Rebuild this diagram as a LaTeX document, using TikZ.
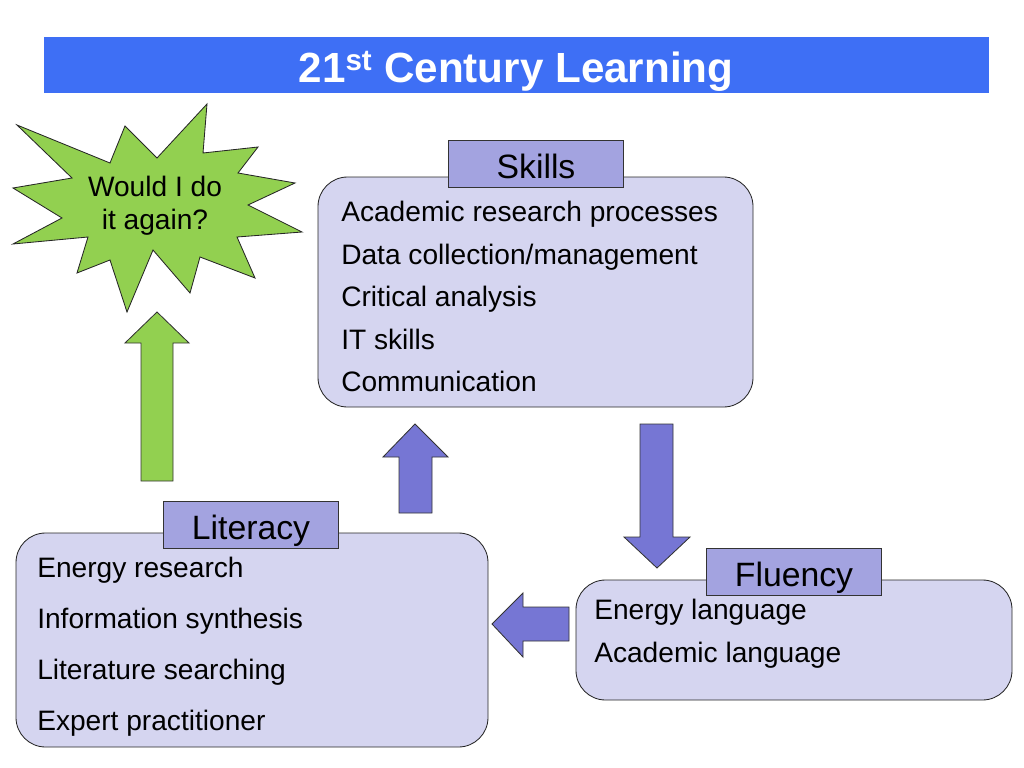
\documentclass[tikz,border=0pt]{standalone}
\usepackage{fontspec}
\setmainfont{Liberation Sans}
\definecolor{titleblue}{RGB}{62,111,245}
\definecolor{boxfill}{RGB}{213,213,240}
\definecolor{tagfill}{RGB}{163,163,224}
\definecolor{arrowfill}{RGB}{118,118,212}
\definecolor{stargreen}{RGB}{146,208,80}
\tikzset{
	box/.style={draw=black!85, line width=0.6pt, fill=boxfill, rounded corners=21pt},
	tag/.style={draw=black!80, line width=0.6pt, fill=tagfill, minimum width=124.7pt, minimum height=34pt, inner sep=0pt, text height=20pt, text depth=0pt, font=\fontsize{24}{28}\selectfont},
	item/.style={anchor=base west, inner sep=0pt, font=\fontsize{20}{24}\selectfont},
	blockarrow/.style={draw=black!80, line width=0.6pt}
}

\begin{document}
\begin{tikzpicture}[x=0.025cm, y=-0.025cm]
			%%%%% START %%%%%
			\useasboundingbox (0, 0) rectangle (1024, 768);
			
			\draw[fill=titleblue, draw=none] (44, 37) rectangle (989, 93);
			\node[anchor=base, inner sep=0pt, text=white, font=\bfseries\fontsize{30}{36}\selectfont] (title) at (516, 83) {21\textsuperscript{st} Century Learning};
			
			\draw[line width=0.6pt, draw=black!85, fill=stargreen] (17, 125) -- (110, 163) -- (125, 126) -- (157, 158) -- (207, 104) -- (203, 153) -- (258, 147) -- (238, 173) -- (295, 183) -- (248, 205) -- (302, 232) -- (237, 237) -- (255, 278) -- (200, 257) -- (190, 293) -- (153, 250) -- (127, 312) -- (110, 260) -- (77, 273) -- (88, 237) -- (13, 244) -- (62, 218) -- (13, 188) -- (72, 178) -- cycle;
			\node[anchor=base, inner sep=0pt, font=\fontsize{20}{24}\selectfont] (again1) at (155, 196) {Would I do};
			\node[anchor=base, inner sep=0pt, font=\fontsize{20}{24}\selectfont] (again2) at (155, 229) {it again?};
			
			\draw[blockarrow, fill=stargreen] (141, 481) -- (141, 343) -- (125, 343) -- (157, 312) -- (189, 343) -- (173, 343) -- (173, 481) -- cycle;
			
			\draw[box] (318, 177) rectangle (753, 407);
			\node[tag] (skills) at (536, 164) {Skills};
			\node[item] (sk1) at (341, 221) {Academic research processes};
			\node[item] (sk2) at (341, 264) {Data collection/management};
			\node[item] (sk3) at (341, 306) {Critical analysis};
			\node[item] (sk4) at (341, 349) {IT skills};
			\node[item] (sk5) at (341, 391) {Communication};
			
			\draw[blockarrow, fill=arrowfill] (399, 513) -- (399, 457) -- (383, 457) -- (415, 424) -- (448, 457) -- (432, 457) -- (432, 513) -- cycle;
			\draw[blockarrow, fill=arrowfill] (640, 424) -- (640, 537) -- (624, 537) -- (657, 568) -- (690, 537) -- (673, 537) -- (673, 424) -- cycle;
			\draw[blockarrow, fill=arrowfill] (569, 607) -- (523, 607) -- (523, 593) -- (492, 624) -- (523, 657) -- (523, 641) -- (569, 641) -- cycle;
			
			\draw[box] (16, 533) rectangle (488, 747);
			\node[tag] (literacy) at (251, 525) {Literacy};
			\node[item] (lit1) at (37, 577) {Energy research};
			\node[item] (lit2) at (37, 628) {Information synthesis};
			\node[item] (lit3) at (37, 679) {Literature searching};
			\node[item] (lit4) at (37, 730) {Expert practitioner};
			
			\draw[box] (576, 580) rectangle (1012, 700);
			\node[tag] (fluency) at (794, 572) {Fluency};
			\node[item] (flu1) at (594, 619) {Energy language};
			\node[item] (flu2) at (594, 662) {Academic language};
			
			%%%%% END %%%%%
\end{tikzpicture}
\end{document}
